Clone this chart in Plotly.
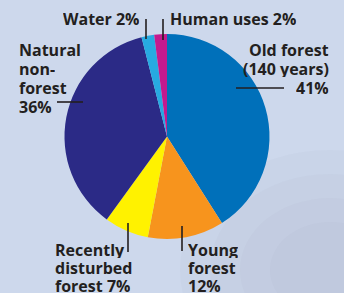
import plotly.graph_objects as go

# ---- data ----
categories = ["Old forest (140 years)", "Young forest", "Recently disturbed forest",
              "Natural non-forest", "Water", "Human uses"]
values = [41, 12, 7, 36, 2, 2]
colors = ["#0070BA", "#F7941D", "#FFF200", "#2B2A86", "#27AAE1", "#C41A8E"]
label_lines = [
    ["Old forest", "(140 years)", "41%"],
    ["Young", "forest", "12%"],
    ["Recently", "disturbed", "forest 7%"],
    ["Natural", "non-", "forest", "36%"],
    ["Water 2%"],
    ["Human uses 2%"],
]

W, H = 344, 293
def px(x): return x / W
def py(y): return 1 - y / H

fig = go.Figure()
fig.add_trace(go.Pie(
    labels=categories, values=values, sort=False, direction="clockwise", rotation=0,
    marker=dict(colors=colors, line=dict(width=0)),
    textinfo="none", showlegend=False,
    domain=dict(x=[px(64.5), px(269.5)], y=[py(239), py(34)]),
))

TXT = "#231F20"
FONT = dict(family="Open Sans, Noto Sans, sans-serif", size=16, color=TXT, weight=700)

# label placements: (anchor x px, first line y px, xanchor, line spacing)
placements = [
    (330, 49, "right", 19),   # Old forest
    (187, 249, "left", 18.3),   # Young forest
    (54, 249, "left", 18.3),    # Recently disturbed
    (18, 49, "left", 19),     # Natural non-forest
    (141, 19, "right", 19),   # Water
    (169, 19, "left", 19),    # Human uses
]
annotations = []
for lines, (ax_, ay_, xa, sp) in zip(label_lines, placements):
    for i, t in enumerate(lines):
        annotations.append(dict(
            x=px(ax_), y=py(ay_ + i * sp), xref="paper", yref="paper",
            text=t, showarrow=False, borderpad=0, height=17,
            xanchor=xa, yanchor="middle", font=FONT))

# leader lines (pixel endpoints)
leaders = [
    (236, 88, 284, 88),   # Old forest
    (182, 226, 182, 251), # Young forest
    (128, 223, 128, 252), # Recently disturbed
    (57, 102, 83, 102),   # Natural non-forest
    (146, 19, 146, 39),   # Water
    (163, 19, 163, 40),   # Human uses
]
shapes = []
for r, op in [(150, 0.04), (120, 0.04), (90, 0.04), (60, 0.04)]:
    cx, cy = 330, 270
    shapes.append(dict(type="circle", xref="paper", yref="paper",
                       x0=px(cx - r), x1=px(cx + r), y0=py(cy + r * 0.8), y1=py(cy - r * 0.8),
                       fillcolor=f"rgba(120,140,145,{op})", line=dict(width=0), layer="below"))
for x0, y0, x1, y1 in leaders:
    shapes.append(dict(type="line", xref="paper", yref="paper",
                       x0=px(x0), y0=py(y0), x1=px(x1), y1=py(y1),
                       line=dict(color=TXT, width=1.6)))

fig.update_layout(
    width=W, height=H, margin=dict(l=0, r=0, t=0, b=0),
    paper_bgcolor="#CDD8EC", plot_bgcolor="#CDD8EC",
    annotations=annotations, shapes=shapes,
)
fig.write_html("out.html", config={"displayModeBar": False},
               post_script="document.body.style.margin='0';")
